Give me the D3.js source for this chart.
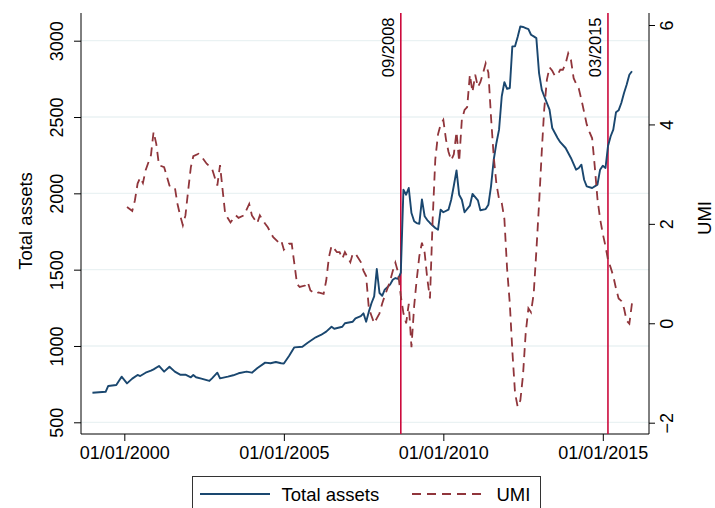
<!DOCTYPE html>
<html><head><meta charset="utf-8">
<script src="https://cdn.jsdelivr.net/npm/d3@7"></script>
<style>body{margin:0;background:#fff}svg{display:block}text{font-family:"Liberation Sans",Arial,Helvetica,sans-serif}</style>
</head><body><svg id="c" width="715" height="508"></svg>
<script>
// ---------- data ----------
const taDates = ["1999-01","1999-06","1999-07","1999-10","1999-12","2000-02","2000-04","2000-06","2000-07","2000-09","2000-11","2000-12",
"2001-02","2001-04","2001-06","2001-08","2001-10","2001-12","2002-02","2002-03","2002-04","2002-06","2002-09","2002-10","2002-12",
"2003-01","2003-04","2003-06","2003-08","2003-11","2004-01","2004-03","2004-06","2004-08","2004-10","2004-12","2005-01","2005-03",
"2005-05","2005-08","2005-10","2006-01","2006-03","2006-05","2006-07","2006-08","2006-11","2006-12","2007-03","2007-04","2007-06",
"2007-07","2007-08","2007-09","2007-10","2007-11","2007-12","2008-01","2008-02","2008-03","2008-05","2008-06","2008-07","2008-08",
"2008-09","2008-10","2008-11","2008-12","2009-01","2009-02","2009-03","2009-04","2009-05","2009-06","2009-07","2009-08","2009-10",
"2009-11","2009-12","2010-01","2010-03","2010-04","2010-05","2010-06","2010-07","2010-08","2010-09","2010-11","2010-12","2011-02",
"2011-03","2011-05","2011-06","2011-07","2011-08","2011-09","2011-10","2011-11","2011-12","2012-01","2012-02","2012-03","2012-04",
"2012-05","2012-06","2012-07","2012-08","2012-09","2012-10","2012-11","2012-12","2013-01","2013-02","2013-03","2013-05","2013-06",
"2013-08","2013-09","2013-11","2014-01","2014-03","2014-04","2014-05","2014-06","2014-07","2014-09","2014-11","2014-12","2015-01",
"2015-02","2015-03","2015-04","2015-05","2015-06","2015-07","2015-08","2015-09","2015-10","2015-11","2015-12"];
const taValues = [694,700,738,744,799,755,786,810,803,825,838,847,
869,832,864,832,812,812,795,810,795,786,771,788,825,
788,799,808,821,832,825,854,891,887,895,887,885,934,
991,995,1021,1057,1072,1094,1126,1113,1126,1149,1159,1181,1196,
1214,1159,1225,1280,1325,1504,1347,1329,1369,1402,1434,1445,1439,
1480,2024,1991,2035,1871,1817,1805,1801,1960,1850,1825,1806,1773,
1762,1893,1876,1893,1958,2050,2150,1991,1958,1876,1919,1996,1954,
1889,1897,1926,2046,2220,2330,2417,2636,2728,2684,2690,2963,2963,
3024,3094,3090,3083,3076,3039,3028,3017,2788,2679,2636,2548,2428,
2363,2335,2297,2232,2155,2166,2188,2089,2046,2035,2057,2155,2181,
2166,2308,2374,2417,2531,2544,2592,2657,2712,2777,2800];

const umiDates = ["2000-02","2000-04","2000-05","2000-06","2000-07","2000-08","2000-09","2000-11","2000-12","2001-01","2001-02","2001-04",
"2001-06","2001-08","2001-09","2001-10","2001-11","2001-12","2002-01","2002-02","2002-03","2002-05","2002-06","2002-08","2002-10",
"2002-12","2003-01","2003-02","2003-03","2003-05","2003-07","2003-08","2003-10","2003-12","2004-01","2004-03","2004-04","2004-06",
"2004-07","2004-09","2004-11","2004-12","2005-01","2005-03","2005-04","2005-05","2005-06","2005-07","2005-09","2005-10","2005-11",
"2006-01","2006-02","2006-04","2006-05","2006-06","2006-07","2006-08","2006-09","2006-10","2006-11","2006-12","2007-01","2007-02",
"2007-03","2007-04","2007-06","2007-07","2007-08","2007-09","2007-10","2007-11","2007-12","2008-01","2008-02","2008-03","2008-04",
"2008-05","2008-06","2008-07","2008-08","2008-09","2008-10","2008-11","2008-12","2009-01","2009-02","2009-03","2009-04","2009-05",
"2009-06","2009-07","2009-08","2009-09","2009-10","2009-11","2009-12","2010-01","2010-02","2010-03","2010-04","2010-05","2010-06",
"2010-07","2010-08","2010-09","2010-10","2010-11","2010-12","2011-01","2011-02","2011-03","2011-04","2011-05","2011-06","2011-07",
"2011-08","2011-09","2011-10","2011-11","2011-12","2012-01","2012-02","2012-03","2012-04","2012-05","2012-06","2012-07","2012-08",
"2012-09","2012-10","2012-11","2012-12","2013-01","2013-02","2013-03","2013-04","2013-05","2013-06","2013-07","2013-08","2013-09",
"2013-10","2013-11","2013-12","2014-01","2014-02","2014-03","2014-04","2014-05","2014-06","2014-07","2014-08","2014-09","2014-10",
"2014-11","2014-12","2015-01","2015-02","2015-03","2015-04","2015-05","2015-06","2015-07","2015-08","2015-09","2015-10","2015-11",
"2015-12"];
const umiValues = [2.34,2.26,2.47,2.81,2.93,2.82,3.08,3.38,3.85,3.61,3.18,3.14,
2.77,2.74,2.40,2.17,1.97,2.17,2.67,3.14,3.36,3.41,3.36,3.21,3.11,
2.77,3.18,2.66,2.20,2.03,2.17,2.12,2.17,2.40,2.17,2.01,2.17,2.00,
1.93,1.73,1.63,1.67,1.48,1.60,1.60,1.20,0.79,0.73,0.76,0.83,0.66,
0.59,0.62,0.59,0.86,1.33,1.56,1.50,1.43,1.43,1.30,1.43,1.33,1.23,
1.40,1.40,1.23,1.06,0.95,0.30,0.15,0.00,0.10,0.20,0.40,0.55,0.70,
0.85,1.05,1.22,1.02,0.55,0.20,0.00,0.39,-0.48,0.35,0.86,1.35,1.62,
1.42,0.90,0.50,2.10,3.30,3.80,4.00,4.09,3.69,3.45,3.28,3.40,3.85,
3.25,4.10,4.29,4.35,5.00,4.65,5.00,4.75,4.85,5.03,5.23,5.04,4.15,
3.35,2.80,2.50,2.42,2.10,1.10,0.40,-0.55,-1.40,-1.68,-1.55,-1.05,-0.20,
0.30,0.22,0.60,1.45,2.40,3.45,4.30,4.90,5.15,5.08,4.98,5.00,5.10,
5.10,5.22,5.43,5.30,4.93,4.82,4.72,4.50,4.25,4.00,3.85,3.72,3.15,
2.50,2.10,1.80,1.55,1.28,1.12,0.95,0.70,0.50,0.45,0.30,0.05,-0.01,
0.40];

const leftTicks = [500,1000,1500,2000,2500,3000];
const rightTicks = [-2,0,2,4,6];
const xTickLabels = ["01/01/2000","01/01/2005","01/01/2010","01/01/2015"];
const eventDates = ["2008-09","2015-03"];
const eventLabels = ["09/2008","03/2015"];
const seriesNames = ["Total assets","UMI"];

// ---------- drawing ----------
const parseM = d3.timeParse("%Y-%m");
const parseTick = d3.timeParse("%d/%m/%Y");
const svg = d3.select("#c");
svg.append("rect").attr("width",715).attr("height",508).attr("fill","#fff");

const L = 81, R = 649, T = 13, B = 434;
const x = d3.scaleTime().domain([new Date(1998,7,23), new Date(2016,5,13)]).range([L,R]);
const yL = d3.scaleLinear().domain([500,3000]).range([422.3,40.7]);
const yR = d3.scaleLinear().domain([-2,6]).range([422.7,25]);

const navy = "#1a476f", maroon = "#90353b", crimson = "#cc0a3c", grid = "#eaf2f3";
const dash = "9,6";

// grid
svg.append("g").selectAll("line").data(leftTicks).join("line")
  .attr("x1",L).attr("x2",R).attr("y1",d=>yL(d)).attr("y2",d=>yL(d))
  .attr("stroke",grid).attr("stroke-width",1.3);

// axes
const fs = "18px";
const gL = svg.append("g").attr("transform",`translate(${L},0)`)
  .call(d3.axisLeft(yL).tickValues(leftTicks).tickSize(7).tickFormat(d3.format("d")));
gL.selectAll("text").attr("transform","rotate(-90)").attr("x",0).attr("y",-17.7).attr("dy",0)
  .attr("text-anchor","middle").style("font-size",fs).attr("fill","#000");

const gR = svg.append("g").attr("transform",`translate(${R},0)`)
  .call(d3.axisRight(yR).tickValues(rightTicks).tickSize(6).tickFormat(d=>d<0?"\u2212"+Math.abs(d):d));
gR.selectAll("text").attr("transform","rotate(-90)").attr("x",0).attr("y",24.3).attr("dy",0)
  .attr("text-anchor","middle").style("font-size",fs).attr("fill","#000");

const xTickDates = xTickLabels.map(parseTick);
const gB = svg.append("g").attr("transform",`translate(0,${B})`)
  .call(d3.axisBottom(x).tickValues(xTickDates).tickSize(7).tickFormat((d,i)=>xTickLabels[i]));
gB.selectAll("text").attr("y",25).attr("dy",0).style("font-size",fs).attr("fill","#000");

[gL,gR,gB].forEach(g=>{g.select(".domain").remove(); g.selectAll("line").attr("stroke","#000").attr("stroke-width",1);});

svg.append("line").attr("x1",L).attr("x2",L).attr("y1",T).attr("y2",B).attr("stroke","#000");
svg.append("line").attr("x1",R).attr("x2",R).attr("y1",T).attr("y2",B).attr("stroke","#000");
svg.append("line").attr("x1",L).attr("x2",R).attr("y1",B).attr("y2",B).attr("stroke","#000");

// event lines
eventDates.forEach((d,i)=>{
  const xx = x(parseM(d));
  svg.append("line").attr("x1",xx).attr("x2",xx).attr("y1",T).attr("y2",B)
    .attr("stroke",crimson).attr("stroke-width",1.6);
  svg.append("text").attr("transform",`translate(${xx-6.5},17.5) rotate(-90)`)
    .attr("text-anchor","end").style("font-size","16.5px").text(eventLabels[i]);
});

// series
const taLine = d3.line().x((d,i)=>x(parseM(taDates[i]))).y(d=>yL(d));
svg.append("path").attr("d",taLine(taValues)).attr("fill","none")
  .attr("stroke",navy).attr("stroke-width",1.9).attr("stroke-linejoin","round");
const umiLine = d3.line().x((d,i)=>x(parseM(umiDates[i]))).y(d=>yR(d));
svg.append("path").attr("d",umiLine(umiValues)).attr("fill","none")
  .attr("stroke",maroon).attr("stroke-width",1.8).attr("stroke-dasharray",dash);

// axis titles
svg.append("text").attr("transform",`translate(31.5,221) rotate(-90)`).attr("text-anchor","middle")
  .style("font-size","18.5px").text("Total assets");
svg.append("text").attr("transform",`translate(710.5,218) rotate(-90)`).attr("text-anchor","middle")
  .style("font-size","18.5px").text("UMI");

// legend
const lg = svg.append("g");
lg.append("rect").attr("x",192.5).attr("y",476.5).attr("width",348).attr("height",40)
  .attr("fill","#fff").attr("stroke","#333").attr("stroke-width",1);
lg.append("line").attr("x1",200).attr("x2",270).attr("y1",494).attr("y2",494)
  .attr("stroke",navy).attr("stroke-width",1.8);
lg.append("text").attr("x",281.5).attr("y",500.5).style("font-size","18.5px").text(seriesNames[0]);
lg.append("line").attr("x1",412).attr("x2",486).attr("y1",494).attr("y2",494)
  .attr("stroke",maroon).attr("stroke-width",1.8).attr("stroke-dasharray",dash);
lg.append("text").attr("x",496.5).attr("y",500.5).style("font-size","18.5px").text(seriesNames[1]);
</script></body></html>
